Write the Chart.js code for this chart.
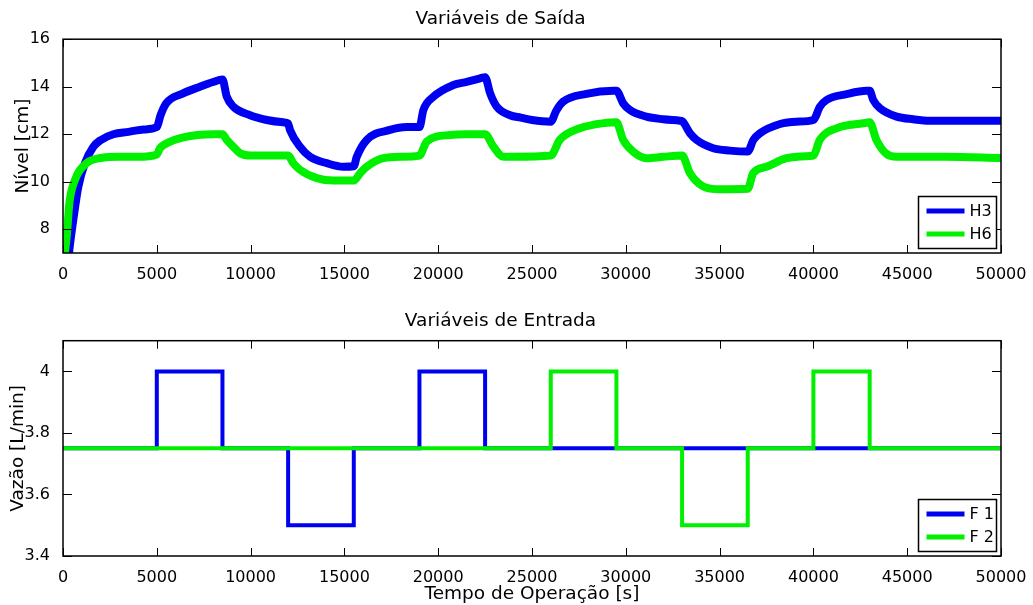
<!DOCTYPE html>
<html>
<head>
<meta charset="utf-8">
<script src="https://cdn.jsdelivr.net/npm/chart.js@4.4.0/dist/chart.umd.min.js"></script>
<style>
  body { margin: 0; background: #fff; }
  canvas { position: absolute; left: 0; }
  #topChart { top: 0; }
  #bottomChart { top: 300px; }
</style>
</head>
<body>
<canvas id="topChart" width="1033" height="300"></canvas>
<canvas id="bottomChart" width="1033" height="305"></canvas>
<script>
// tick labels
const timeTicks = [0, 5000, 10000, 15000, 20000, 25000, 30000, 35000, 40000, 45000, 50000];
const levelTicks = [8, 10, 12, 14, 16];
const flowTicks = [3.4, 3.6, 3.8, 4];

// output levels (time in s, level in cm)
const h3Time = [300, 340, 550, 820, 1170, 1620, 2000, 2680, 3500, 4300, 5000,
  5200, 5500, 6400, 7300, 8000, 8500,
  8730, 9080, 9970, 10860, 11750, 12000,
  12100, 12640, 13170, 14060, 14950, 15500,
  15660, 16190, 17430, 18330, 19000,
  19210, 19750, 20810, 21520, 22230, 22500,
  22770, 23120, 23830, 24400, 25000, 26000,
  26300, 26660, 27900, 29330, 29500,
  29860, 30220, 31100, 32000, 32880, 33000,
  33420, 33770, 34660, 35550, 36500,
  36800, 37150, 38220, 39100, 40000,
  40350, 40700, 41770, 42840, 43000,
  43190, 43550, 44440, 45320, 46210, 50000];
const h3Level = [6.8, 7.13, 8.4, 9.8, 10.78, 11.47, 11.75, 12.0, 12.1, 12.2, 12.3,
  12.8, 13.3, 13.72, 14.0, 14.2, 14.3,
  13.58, 13.16, 12.8, 12.6, 12.5, 12.45,
  12.18, 11.47, 11.05, 10.78, 10.63, 10.65,
  11.05, 11.76, 12.18, 12.3, 12.3,
  13.02, 13.58, 14.07, 14.2, 14.35, 14.4,
  13.72, 13.16, 12.8, 12.7, 12.6, 12.53,
  13.0, 13.37, 13.7, 13.83, 13.83,
  13.3, 13.02, 12.74, 12.63, 12.57, 12.55,
  12.04, 11.76, 11.41, 11.31, 11.27,
  11.76, 12.04, 12.43, 12.53, 12.6,
  13.16, 13.44, 13.69, 13.83, 13.83,
  13.44, 13.09, 12.74, 12.63, 12.57, 12.57];

const h6Time = [60, 200, 340, 600, 1260, 2000, 3000, 4000, 5000,
  5170, 5530, 6420, 8020, 8500,
  8730, 9080, 9440, 10000, 12000,
  12280, 12640, 13530, 14420, 15500,
  15840, 16190, 17080, 18000, 19000,
  19390, 20640, 21500, 22500,
  22950, 23480, 24000, 26000,
  26480, 27550, 28970, 29500,
  29860, 30390, 31100, 32000, 33000,
  33420, 34130, 35020, 36500,
  36790, 37500, 38570, 39810, 40000,
  40340, 41230, 42650, 43000,
  43360, 43900, 44430, 47000, 50000];
const h6Level = [6.8, 7.7, 9.1, 10.0, 10.78, 11.0, 11.05, 11.05, 11.15,
  11.41, 11.62, 11.87, 12.0, 12.0,
  11.76, 11.47, 11.2, 11.1, 11.1,
  10.78, 10.5, 10.15, 10.05, 10.05,
  10.36, 10.63, 10.99, 11.05, 11.1,
  11.69, 11.97, 12.0, 12.0,
  11.47, 11.05, 11.05, 11.1,
  11.76, 12.25, 12.48, 12.5,
  11.76, 11.27, 10.99, 11.05, 11.1,
  10.36, 9.8, 9.68, 9.7,
  10.36, 10.63, 10.99, 11.08, 11.1,
  11.76, 12.25, 12.46, 12.5,
  11.76, 11.17, 11.05, 11.05, 11.0];

// input flows (value holds from each time until the next one)
const f1Time = [0, 5000, 8500, 12000, 15500, 19000, 22500, 50000];
const f1Flow = [3.75, 4, 3.75, 3.5, 3.75, 4, 3.75, 3.75];
const f2Time = [0, 26000, 29500, 33000, 36500, 40000, 43000, 50000];
const f2Flow = [3.75, 4, 3.75, 3.5, 3.75, 4, 3.75, 3.75];

const BLUE = '#0000f0';
const GREEN = '#00f000';
const FONT = 'DejaVu Sans';

Chart.defaults.font.family = FONT;
Chart.defaults.color = '#000';

function pts(xs, ys) {
  return xs.map((x, i) => ({ x: x, y: ys[i] }));
}

// matlab style box, inward ticks and a boxed legend in the lower right
const boxPlugin = {
  id: 'box',
  afterDraw(chart) {
    const ctx = chart.ctx;
    const a = chart.chartArea;
    const sx = chart.scales.x, sy = chart.scales.y;
    ctx.save();
    ctx.strokeStyle = '#000';
    ctx.lineWidth = 1.5;
    ctx.strokeRect(a.left, a.top, a.right - a.left, a.bottom - a.top);
    ctx.lineWidth = 1;
    ctx.beginPath();
    sx.ticks.forEach(t => {
      const p = Math.round(sx.getPixelForValue(t.value)) + 0.5;
      ctx.moveTo(p, a.bottom); ctx.lineTo(p, a.bottom - 8);
      ctx.moveTo(p, a.top); ctx.lineTo(p, a.top + 8);
    });
    sy.ticks.forEach(t => {
      const p = Math.round(sy.getPixelForValue(t.value)) + 0.5;
      ctx.moveTo(a.left, p); ctx.lineTo(a.left + 9, p);
      ctx.moveTo(a.right, p); ctx.lineTo(a.right - 9, p);
    });
    ctx.stroke();

    // legend
    const w = 78, h = 52;
    const bx = Math.round(a.right - 5 - w) + 0.5;
    const by = Math.round(a.bottom - 5.5 - h) + 0.5;
    ctx.fillStyle = '#fff';
    ctx.fillRect(bx, by, w, h);
    ctx.lineWidth = 1.5;
    ctx.strokeRect(bx, by, w, h);
    ctx.font = '16px ' + FONT;
    ctx.textBaseline = 'middle';
    ctx.textAlign = 'left';
    chart.data.datasets.forEach((ds, i) => {
      const yy = by + 14.5 + i * 23;
      ctx.strokeStyle = ds.borderColor;
      ctx.lineWidth = 5;
      ctx.beginPath();
      ctx.moveTo(bx + 8, yy); ctx.lineTo(bx + 46, yy);
      ctx.stroke();
      ctx.fillStyle = '#000';
      ctx.fillText(ds.label, bx + 51, yy + 1);
    });
    ctx.restore();
  }
};

function makeScales(yMin, yMax, yTicks, yTitle, yTitlePad, xHeight, xTitle) {
  const x = {
    type: 'linear', min: 0, max: 50000,
    grid: { display: false }, border: { display: false },
    afterBuildTicks: s => { s.ticks = timeTicks.map(v => ({ value: v })); },
    afterFit: s => { s.height = xHeight; },
    ticks: { padding: 4, maxRotation: 0, font: { size: 16 }, color: '#000', callback: v => String(v) }
  };
  if (xTitle) {
    x.title = { display: true, text: xTitle, font: { size: 18.5 }, color: '#000', padding: { top: 0, bottom: 0 } };
  }
  return {
    x: x,
    y: {
      type: 'linear', min: yMin, max: yMax,
      grid: { display: false }, border: { display: false },
      afterBuildTicks: s => { s.ticks = yTicks.map(v => ({ value: v })); },
      afterFit: s => { s.width = 63; },
      ticks: { padding: 5, font: { size: 16 }, color: '#000', callback: v => String(v) },
      title: { display: true, text: yTitle, font: { size: 18.5 }, color: '#000', padding: { top: yTitlePad, bottom: 0 } }
    }
  };
}

new Chart(document.getElementById('topChart'), {
  type: 'line',
  data: {
    datasets: [
      { label: 'H3', data: pts(h3Time, h3Level), borderColor: BLUE, backgroundColor: BLUE,
        borderWidth: 8, pointRadius: 0, cubicInterpolationMode: 'monotone', order: 2 },
      { label: 'H6', data: pts(h6Time, h6Level), borderColor: GREEN, backgroundColor: GREEN,
        borderWidth: 8, pointRadius: 0, cubicInterpolationMode: 'monotone', order: 1 }
    ]
  },
  options: {
    responsive: false,
    animation: false,
    layout: { padding: { left: 0, right: 32, top: 0, bottom: 0 } },
    plugins: {
      legend: { display: false },
      tooltip: { enabled: false },
      title: { display: true, text: 'Variáveis de Saída', font: { size: 18.5, weight: 'normal' }, color: '#000',
        padding: { top: 8.5, bottom: 8.5 } }
    },
    scales: makeScales(7, 16, levelTicks, 'Nível [cm]', 12, 47, null)
  },
  plugins: [boxPlugin]
});

new Chart(document.getElementById('bottomChart'), {
  type: 'line',
  data: {
    datasets: [
      { label: 'F 1', data: pts(f1Time, f1Flow), borderColor: BLUE, backgroundColor: BLUE,
        borderWidth: 4, pointRadius: 0, stepped: 'before', order: 2 },
      { label: 'F 2', data: pts(f2Time, f2Flow), borderColor: GREEN, backgroundColor: GREEN,
        borderWidth: 4, pointRadius: 0, stepped: 'before', order: 1 }
    ]
  },
  options: {
    responsive: false,
    animation: false,
    layout: { padding: { left: 0, right: 32, top: 0, bottom: 0 } },
    plugins: {
      legend: { display: false },
      tooltip: { enabled: false },
      title: { display: true, text: 'Variáveis de Entrada', font: { size: 18.5, weight: 'normal' }, color: '#000',
        padding: { top: 10.5, bottom: 8 } }
    },
    scales: makeScales(3.4, 4.1, flowTicks, 'Vazão [L/min]', 7, 49, 'Tempo de Operação [s]')
  },
  plugins: [boxPlugin]
});
</script>
</body>
</html>
